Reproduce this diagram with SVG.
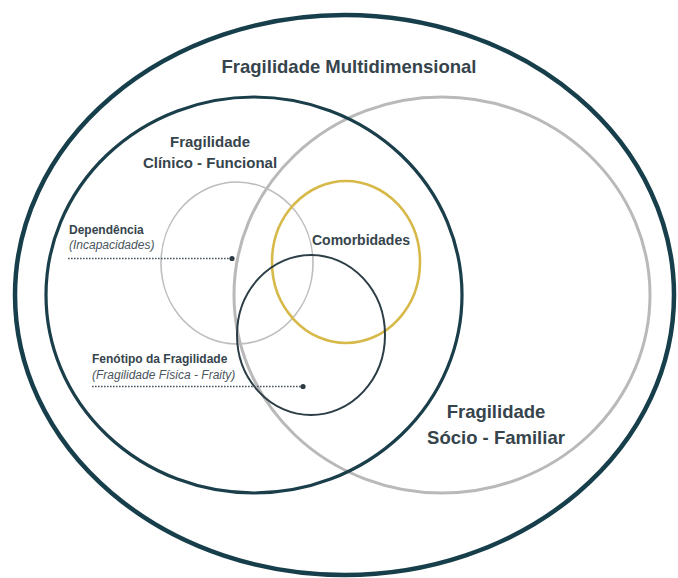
<svg xmlns="http://www.w3.org/2000/svg" width="678" height="578" viewBox="0 0 678 578">
<defs>
<style>
.t{font-family:"Liberation Sans",Arial,sans-serif;font-weight:bold;fill:#36444c}
.it{font-family:"Liberation Sans",Arial,sans-serif;font-style:italic;fill:#4a565d}
.dot{stroke:#4a5860;stroke-width:1.6;stroke-dasharray:1.6 1.4;fill:none}
</style>
</defs>
<rect width="678" height="578" fill="#ffffff"/>
<g id="multidimensional">
<ellipse cx="344.5" cy="295" rx="329.5" ry="280" fill="none" stroke="#173f4b" stroke-width="4.5"/>
<text class="t" x="349" y="73" font-size="18.5" text-anchor="middle">Fragilidade Multidimensional</text>
</g>
<g id="socio-familiar">
<ellipse cx="442" cy="295" rx="208" ry="198" fill="none" stroke="#b9b9b9" stroke-width="3"/>
<text class="t" x="496" y="418" font-size="18.5" text-anchor="middle">Fragilidade</text>
<text class="t" x="496" y="444" font-size="18.5" text-anchor="middle">Sócio - Familiar</text>
</g>
<g id="clinico-funcional">
<ellipse cx="254" cy="295" rx="208" ry="198" fill="none" stroke="#1a3f4a" stroke-width="3.2"/>
<text class="t" x="210" y="147" font-size="15" text-anchor="middle">Fragilidade</text>
<text class="t" x="210" y="168" font-size="15" text-anchor="middle">Clínico - Funcional</text>
</g>
<g id="dependencia">
<ellipse cx="237" cy="263" rx="76" ry="81" fill="none" stroke="#bdbdbd" stroke-width="1.6"/>
<text class="t" x="69" y="234" font-size="12">Dependência</text>
<text class="it" x="69" y="249" font-size="12">(Incapacidades)</text>
</g>
<g id="comorbidades">
<ellipse cx="346" cy="262" rx="74" ry="81" fill="none" stroke="#d7b94a" stroke-width="2.6"/>
<text class="t" x="361" y="245" font-size="14" text-anchor="middle">Comorbidades</text>
</g>
<g id="fenotipo">
<ellipse cx="311" cy="335" rx="74" ry="80" fill="none" stroke="#2b3d45" stroke-width="2"/>
<text class="t" x="92" y="363" font-size="12">Fenótipo da Fragilidade</text>
<text class="it" x="92" y="379" font-size="12">(Fragilidade Física - Fraity)</text>
</g>
<g id="connectors">
<line class="dot" x1="68" y1="258.5" x2="231" y2="258.5"/>
<circle cx="232" cy="258.5" r="2.6" fill="#2b3a42"/>
<line class="dot" x1="92" y1="386.5" x2="302" y2="386.5"/>
<circle cx="303" cy="386.5" r="2.6" fill="#2b3a42"/>
</g>
</svg>
